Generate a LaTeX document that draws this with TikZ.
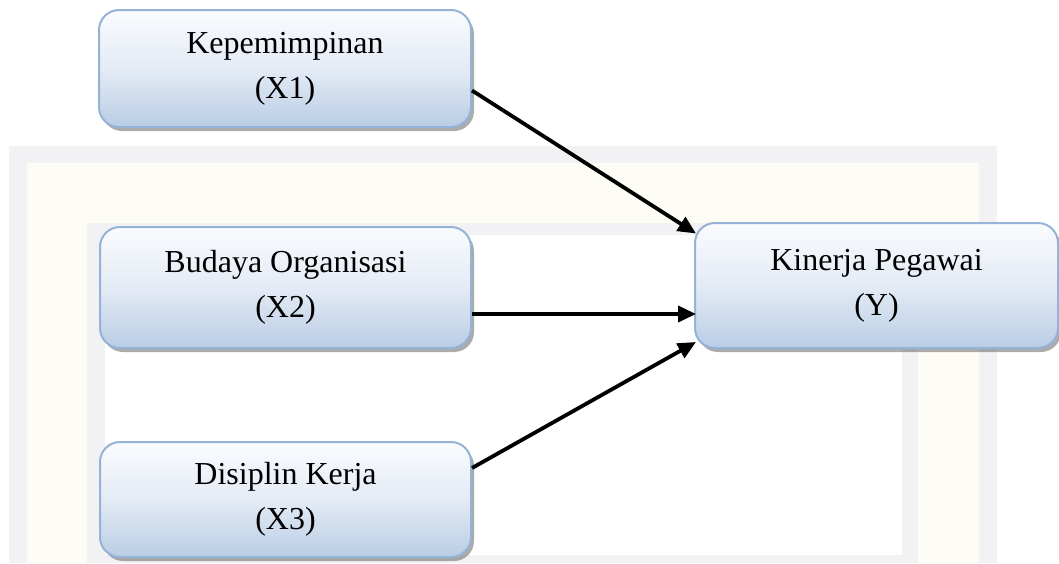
\documentclass[tikz,border=0pt]{standalone}
\usepackage{fontspec}
\setmainfont{Liberation Serif}
\usetikzlibrary{arrows.meta,shadows}
\definecolor{boxtop}{RGB}{250,251,254}
\definecolor{boxmid}{RGB}{228,235,245}
\definecolor{boxbot}{RGB}{185,205,229}
\definecolor{boxline}{RGB}{149,179,215}
\definecolor{wmgray}{RGB}{242,242,244}
\definecolor{wmyellow}{RGB}{254,253,245}
\tikzset{
  varbox/.style={draw=boxline, line width=2pt, rounded corners=20pt,
    top color=boxtop, bottom color=boxbot, middle color=boxmid,
    drop shadow={shadow xshift=3pt, shadow yshift=-4pt, opacity=0.5, fill=black!65},
    align=center, inner sep=0pt,
    font=\fontsize{32}{45}\selectfont},
  link/.style={line width=3.8pt, -{Triangle[length=18pt,width=16pt]}}
}
\begin{document}
\begin{tikzpicture}[x=1pt,y=-1pt]
\useasboundingbox (0,0) rectangle (1059,563);
% faint watermark frame
\fill[wmgray] (9,146) rectangle (997,563);
\fill[wmyellow] (27,163) rectangle (979,563);
\fill[wmgray] (87,223) rectangle (918,563);
\fill[white] (105,235) rectangle (902,555);
% boxes
\node[varbox, minimum width=372pt, minimum height=117pt] (x1) at (285,68.5) {Kepemimpinan\\(X1)};
\node[varbox, minimum width=371pt, minimum height=121pt] (x2) at (285.5,287.5) {Budaya Organisasi\\(X2)};
\node[varbox, minimum width=371pt, minimum height=115pt] (x3) at (285.5,499.5) {Disiplin Kerja\\(X3)};
\node[varbox, minimum width=363pt, minimum height=125pt] (y) at (876.5,285.5) {Kinerja Pegawai\\(Y)};
% connectors
\draw[link] ([yshift=-22pt]x1.east) -- ([xshift=2pt,yshift=52pt]y.west);
\draw[link] ([yshift=-26.5pt]x2.east) -- ([xshift=2pt,yshift=-28.5pt]y.west);
\draw[link] ([yshift=31.5pt]x3.east) -- ([xshift=2pt,yshift=-56.5pt]y.west);
\end{tikzpicture}
\end{document}
